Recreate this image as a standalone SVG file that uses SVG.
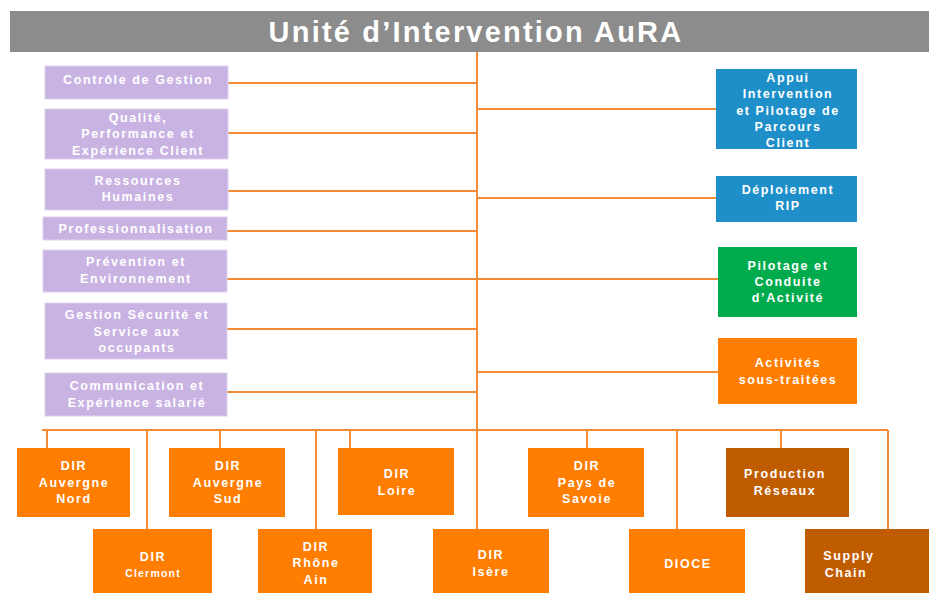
<svg xmlns="http://www.w3.org/2000/svg" width="929" height="593" viewBox="0 0 929 593">
<style>
.t{font-family:"Liberation Sans",Arial,sans-serif;font-weight:bold;fill:#ffffff;text-anchor:middle;font-size:12.5px;letter-spacing:1.6px}
.title{font-family:"Liberation Sans",Arial,sans-serif;font-weight:bold;fill:#ffffff;text-anchor:middle;font-size:29px;letter-spacing:2.2px}
.p{fill:#c9b3e3;stroke:#ddd0ee;stroke-width:1}
.b{fill:#1f8fc9}
.g{fill:#00ab4e}
.o{fill:#ff7d00}
.br{fill:#c05c00}
.c{stroke:#f38c35;stroke-width:2;fill:none}
</style>
<rect width="929" height="593" fill="#ffffff"/>
<g id="title">
<rect x="10" y="11" width="919" height="41" fill="#8c8c8c"/>
<text class="title" x="476" y="42">Unité d’Intervention AuRA</text>
</g>
<g id="connectors" class="c">
<path d="M477 52 V529"/>
<path d="M228 83 H477 M228 133 H477 M228 191 H477 M227 231 H477 M227 279 H477 M227 329 H477 M227 392 H477"/>
<path d="M477 109 H716 M477 198 H716 M477 279 H718 M477 372 H718"/>
<path d="M42 430 H888"/>
<path d="M47 430 V448 M147 430 V529 M220 430 V448 M316 430 V529 M350 430 V448 M587 430 V448 M677 430 V529 M781 430 V448 M888 430 V529"/>
</g>
<g id="controle">
<rect class="p" x="45" y="66" width="183" height="33"/>
<text class="t" x="138" y="84">Contrôle de Gestion</text>
</g>
<g id="qualite">
<rect class="p" x="45" y="109" width="183" height="50"/>
<text class="t" x="138" y="122">Qualité,</text>
<text class="t" x="138" y="138">Performance et</text>
<text class="t" x="138" y="155">Expérience Client</text>
</g>
<g id="rh">
<rect class="p" x="45" y="169" width="183" height="41"/>
<text class="t" x="138" y="185">Ressources</text>
<text class="t" x="138" y="201">Humaines</text>
</g>
<g id="pro">
<rect class="p" x="43" y="217" width="184" height="23"/>
<text class="t" x="136" y="233">Professionnalisation</text>
</g>
<g id="prevention">
<rect class="p" x="43" y="250" width="184" height="42"/>
<text class="t" x="136" y="266">Prévention et</text>
<text class="t" x="136" y="283">Environnement</text>
</g>
<g id="securite">
<rect class="p" x="45" y="303" width="182" height="56"/>
<text class="t" x="137" y="319">Gestion Sécurité et</text>
<text class="t" x="137" y="336">Service aux</text>
<text class="t" x="137" y="352">occupants</text>
</g>
<g id="communication">
<rect class="p" x="45" y="373" width="182" height="43"/>
<text class="t" x="137" y="390">Communication et</text>
<text class="t" x="137" y="407">Expérience salarié</text>
</g>
<g id="appui">
<rect class="b" x="716" y="69" width="141" height="80"/>
<text class="t" x="788" y="82">Appui</text>
<text class="t" x="788" y="98">Intervention</text>
<text class="t" x="788" y="115">et Pilotage de</text>
<text class="t" x="788" y="131">Parcours</text>
<text class="t" x="788" y="147">Client</text>
</g>
<g id="deploiement">
<rect class="b" x="716" y="176" width="141" height="46"/>
<text class="t" x="788" y="194">Déploiement</text>
<text class="t" x="788" y="210">RIP</text>
</g>
<g id="pilotage">
<rect class="g" x="718" y="247" width="139" height="70"/>
<text class="t" x="788" y="270">Pilotage et</text>
<text class="t" x="788" y="286">Conduite</text>
<text class="t" x="788" y="302">d’Activité</text>
</g>
<g id="activites">
<rect class="o" x="718" y="338" width="139" height="66"/>
<text class="t" x="788" y="367">Activités</text>
<text class="t" x="788" y="384">sous-traitées</text>
</g>
<g id="dir-auvergne-nord">
<rect class="o" x="17" y="448" width="113" height="69"/>
<text class="t" x="74" y="470">DIR</text>
<text class="t" x="74" y="487">Auvergne</text>
<text class="t" x="74" y="503">Nord</text>
</g>
<g id="dir-auvergne-sud">
<rect class="o" x="169" y="448" width="116" height="69"/>
<text class="t" x="228" y="470">DIR</text>
<text class="t" x="228" y="487">Auvergne</text>
<text class="t" x="228" y="503">Sud</text>
</g>
<g id="dir-loire">
<rect class="o" x="338" y="448" width="116" height="67"/>
<text class="t" x="397" y="478">DIR</text>
<text class="t" x="397" y="495">Loire</text>
</g>
<g id="dir-savoie">
<rect class="o" x="528" y="448" width="116" height="69"/>
<text class="t" x="587" y="470">DIR</text>
<text class="t" x="587" y="487">Pays de</text>
<text class="t" x="587" y="503">Savoie</text>
</g>
<g id="production">
<rect class="br" x="726" y="448" width="123" height="69"/>
<text class="t" x="785" y="478">Production</text>
<text class="t" x="785" y="495">Réseaux</text>
</g>
<g id="dir-clermont">
<rect class="o" x="93" y="529" width="119" height="64"/>
<text class="t" x="153" y="561">DIR</text>
<text class="t" x="153" y="577" style="font-size:10.5px;letter-spacing:1.2px">Clermont</text>
</g>
<g id="dir-rhone">
<rect class="o" x="258" y="529" width="114" height="64"/>
<text class="t" x="316" y="551">DIR</text>
<text class="t" x="316" y="567">Rhône</text>
<text class="t" x="316" y="584">Ain</text>
</g>
<g id="dir-isere">
<rect class="o" x="433" y="529" width="116" height="64"/>
<text class="t" x="491" y="559">DIR</text>
<text class="t" x="491" y="576">Isère</text>
</g>
<g id="dioce">
<rect class="o" x="629" y="529" width="116" height="64"/>
<text class="t" x="688" y="568">DIOCE</text>
</g>
<g id="supply">
<rect class="br" x="805" y="529" width="124" height="64"/>
<text class="t" x="849" y="560">Supply</text>
<text class="t" x="846" y="577">Chain</text>
</g>
</svg>
